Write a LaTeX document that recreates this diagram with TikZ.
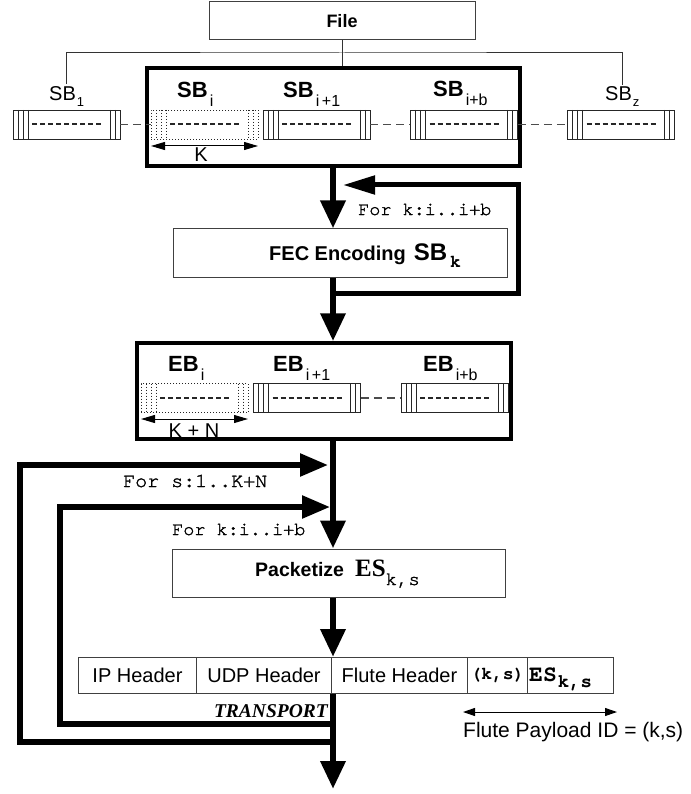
\documentclass[tikz,border=0pt]{standalone}
\usepackage{fontspec}
\setmainfont{Liberation Sans}
\newfontfamily\mono{texgyrecursor-regular.otf}[BoldFont=texgyrecursor-bold.otf]
\newfontfamily\monomed{texgyrecursor-regular.otf}[FakeBold=1.6]
\newfontfamily\tms{Liberation Serif}
\usetikzlibrary{arrows.meta}
\newcommand\lsub[1]{\hspace{2pt}\raisebox{-9pt}{\fontsize{16}{16}\selectfont\mdseries #1}}
\newcommand\nsub[1]{\hspace{1pt}\raisebox{-6pt}{\fontsize{13}{13}\selectfont #1}}
\tikzset{
  thinline/.style={draw=black!80, line width=1pt},
  procbox/.style={draw=black!75, line width=1pt, rectangle, inner sep=0pt},
  bigbox/.style={draw=black, line width=3.5pt, rectangle, inner sep=0pt},
  midline/.style={line width=2pt, dash pattern=on 5pt off 3pt},
  blk/.style={draw=black!85, line width=0.9pt, rectangle, minimum width=107pt,
    minimum height=29pt, inner sep=0pt, fill=white,
    path picture={
      \foreach \o in {5,10,15}
        \draw[line width=0.8pt] ([xshift=\o pt]path picture bounding box.north west)
          -- ([xshift=\o pt]path picture bounding box.south west);
      \foreach \o in {5,10}
        \draw[line width=0.8pt] ([xshift=-\o pt]path picture bounding box.north east)
          -- ([xshift=-\o pt]path picture bounding box.south east);
      \draw[midline] ([xshift=19pt]path picture bounding box.west)
          -- ([xshift=-17pt]path picture bounding box.east);
    }},
  dots/.style={line width=0.9pt, dash pattern=on 0.9pt off 2.1pt},
  dblk/.style={draw=black!85, dots, rectangle,
    minimum width=107pt, minimum height=29pt, inner sep=0pt, fill=white,
    path picture={
      \foreach \o in {5,10,15}
        \draw[dots] ([xshift=\o pt]path picture bounding box.north west)
          -- ([xshift=\o pt]path picture bounding box.south west);
      \foreach \o in {5,10}
        \draw[dots] ([xshift=-\o pt]path picture bounding box.north east)
          -- ([xshift=-\o pt]path picture bounding box.south east);
      \draw[midline] ([xshift=19pt]path picture bounding box.west)
          -- ([xshift=-17pt]path picture bounding box.east);
    }},
  dashconn/.style={draw=black!70, line width=1.2pt, dash pattern=on 8pt off 5pt},
  lbl/.style={anchor=base west, inner sep=0pt, font=\bfseries\fontsize{22}{24}\selectfont},
  nlbl/.style={anchor=base west, inner sep=0pt, font=\fontsize{20}{22}\selectfont},
  dimarr/.style={draw=black, line width=1pt, {Triangle[length=14pt,width=8pt]}-{Triangle[length=14pt,width=8pt]}},
  mainarr/.style={draw=black, line width=6.5pt, -{Triangle[length=28pt,width=24pt]}},
  looparr/.style={draw=black, line width=5.5pt, -{Triangle[length=28pt,width=22pt]}},
  monotxt/.style={anchor=base west, inner sep=0pt, font=\monomed\fontsize{#1}{#1}\selectfont},
  cell/.style={draw=black!75, line width=1pt, minimum height=36pt, inner sep=0pt,
    anchor=north west, font=\fontsize{20}{22}\selectfont},
}
\begin{document}
\begin{tikzpicture}[x=1pt,y=-1pt]
\useasboundingbox (0,0) rectangle (690,794);
\coordinate (mx) at (333,0);

% File and tree
\node[procbox, minimum width=266pt, minimum height=38pt,
  font=\bfseries\fontsize{18}{20}\selectfont] (file) at (342,21) {File};
\node[bigbox, minimum width=373pt, minimum height=98pt] (sbbox) at (333.5,117) {};
\node[nlbl] (lsb1) at (49,101) {SB\nsub{1}};
\node[nlbl] (lsbz) at (605,101) {SB\nsub{z}};
\coordinate (tree) at (342,53);
\draw[thinline] (file.south) -- (file.south |- sbbox.north);
\draw[thinline] ([yshift=3pt]lsb1.north) |- (tree) -| ([yshift=2pt]lsbz.north);

% source blocks
\node[blk]  (sb1)  at (66.5,124.5) {};
\node[dblk] (sbi)  at (204.5,124.5) {};
\node[blk]  (sbi1) at (316.5,124.5) {};
\node[blk]  (sbib) at (464,124.5) {};
\node[blk]  (sbz)  at (621,124.5) {};
\draw[dashconn] (sb1.east) -- (sbi.west);
\draw[dashconn] (sbi1.east) -- (sbib.west);
\draw[dashconn] (sbib.east) -- (sbz.west);
\node[lbl] (lsbi)  at (177,98) {SB\lsub{i}};
\node[lbl] (lsbi1) at (283,98) {SB\lsub{i\,+1}};
\node[lbl] (lsbib) at (433,97) {SB\lsub{i+b}};
\coordinate (ka) at (151,146);
\coordinate (kb) at (258,146);
\draw[dimarr] (ka) -- (kb);
\node[anchor=base, inner sep=0pt, font=\fontsize{20}{22}\selectfont] (klbl) at (201,162) {K};

% FEC encoding
\node[procbox, minimum width=334pt, minimum height=48pt] (fec) at (340,253) {};
\node[anchor=base west, inner sep=0pt, font=\bfseries\fontsize{20}{22}\selectfont] (fect) at (269,260)
  {FEC Encoding\hspace{8pt}{\fontsize{24}{26}\selectfont SB}\hspace{3pt}\raisebox{-7pt}{\mono\bfseries\fontsize{18}{18}\selectfont k}};
\draw[mainarr] (sbbox.south -| mx) -- (fec.north -| mx);
\coordinate (l1s) at (333,293);
\coordinate (l1c) at (518,185);
\coordinate (l1t) at (343,185);
\draw[draw=black, line width=5pt, -{Triangle[length=32pt,width=18pt]}] (l1s) -| (l1c) -- (l1t);
\node[monotxt=18.5] (fk1) at (358,215) {For k:i..i+b};

% Encoding blocks
\node[bigbox, minimum width=374pt, minimum height=96pt] (ebbox) at (324,391) {};
\draw[mainarr] (fec.south -| mx) -- (ebbox.north -| mx);
\node[dblk] (ebi)  at (194.5,398) {};
\node[blk]  (ebi1) at (307,398) {};
\node[blk]  (ebib) at (454.5,398) {};
\draw[dashconn] (ebi1.east) -- (ebib.west);
\node[lbl] (lebi)  at (168,371) {EB\lsub{i}};
\node[lbl] (lebi1) at (273,371) {EB\lsub{i\,+1}};
\node[lbl] (lebib) at (423,371) {EB\lsub{i+b}};
\coordinate (kna) at (141,419);
\coordinate (knb) at (248,419);
\draw[dimarr] (kna) -- (knb);
\node[anchor=base, inner sep=0pt, font=\fontsize{20}{22}\selectfont] (knlbl) at (194,437) {K + N};

% Packetize
\node[procbox, minimum width=333pt, minimum height=48pt] (pkt) at (338.5,573) {};
\node[anchor=base west, inner sep=0pt, font=\bfseries\fontsize{19.5}{22}\selectfont] (pktt) at (255,576)
  {Packetize\hspace{11pt}{\tms\fontsize{25}{27}\selectfont ES}\raisebox{-9pt}{\monomed\mdseries\fontsize{19}{19}\selectfont k,s}};
\draw[mainarr] (ebbox.south -| mx) -- (pkt.north -| mx);

% loops
\coordinate (ob) at (333,742);
\coordinate (o1) at (20,465);
\coordinate (o2) at (328,465);
\draw[looparr] (ob) -| (o1) -- (o2);
\coordinate (ib) at (333,724);
\coordinate (i1) at (60,507);
\coordinate (i2) at (330,507);
\draw[looparr] (ib) -| (i1) -- (i2);
\node[monotxt=20] (fs) at (123,487) {For s:1..K+N};
\node[monotxt=18.5] (fk2) at (172,535) {For k:i..i+b};

% packet row
\node[cell, minimum width=118pt] (ip)    at (78,657)  {IP Header};
\node[cell, minimum width=135pt] (udp)   at (196,657) {UDP Header};
\node[cell, minimum width=136pt] (flute) at (331,657) {Flute Header};
\node[cell, minimum width=60pt, font=\mono\bfseries\fontsize{18}{20}\selectfont] (ks) at (467,657) {(k,s)};
\node[cell, minimum width=86pt] (es) at (527,657) {};
\node[anchor=base west, inner sep=0pt, font=\mono\bfseries\fontsize{23}{25}\selectfont] (est) at (529,681)
  {ES\hspace{1pt}\raisebox{-6pt}{\fontsize{19}{19}\selectfont k,s}};
\draw[mainarr] (pkt.south -| mx) -- (udp.north -| mx);
\coordinate (bot) at (333,789);
\draw[mainarr] (udp.south -| mx) -- (bot);
\node[anchor=base east, inner sep=0pt, font=\tms\bfseries\itshape\fontsize{19.5}{22}\selectfont] (tr) at (328,717) {TRANSPORT};

% payload id
\coordinate (pa) at (463,712);
\coordinate (pb) at (617,712);
\draw[draw=black, line width=1pt, {Triangle[length=12pt,width=8pt]}-{Triangle[length=12pt,width=8pt]}] (pa) -- (pb);
\node[anchor=base west, inner sep=0pt, font=\fontsize{21}{23}\selectfont] (pid) at (463,737) {Flute Payload ID = (k,s)};
\end{tikzpicture}
\end{document}
